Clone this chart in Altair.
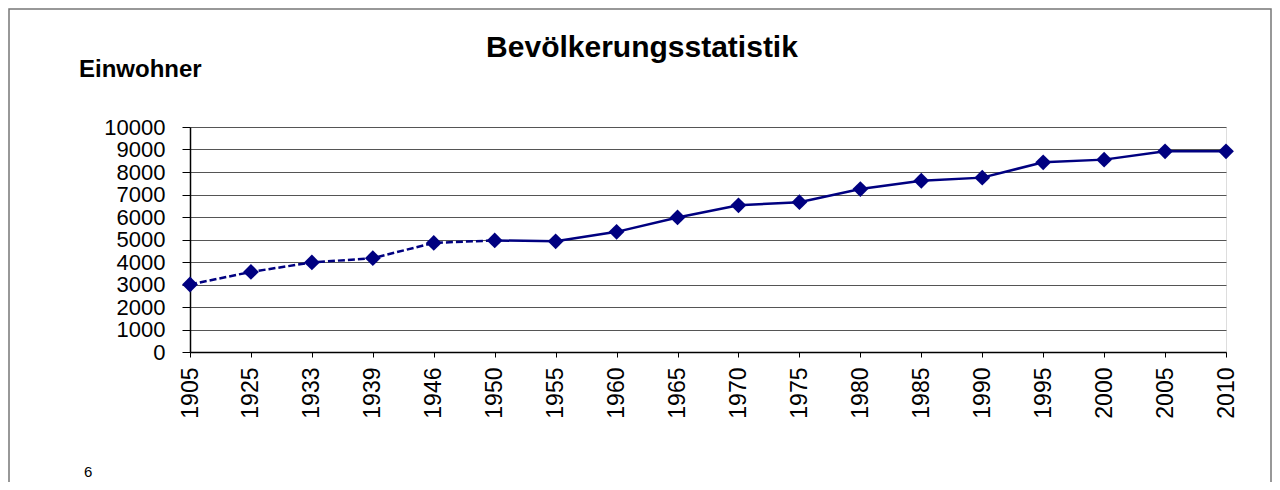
import altair as alt
import pandas as pd

years = ["1905", "1925", "1933", "1939", "1946", "1950", "1955", "1960", "1965",
         "1970", "1975", "1980", "1985", "1990", "1995", "2000", "2005", "2010"]
einwohner = [3000, 3560, 3980, 4170, 4850, 4960, 4920, 5340, 5980,
             6520, 6660, 7240, 7610, 7750, 8430, 8550, 8920, 8920]
dashed_until = "1950"
y_ticks = [0, 1000, 2000, 3000, 4000, 5000, 6000, 7000, 8000, 9000, 10000]
title_text = "Bevölkerungsstatistik"
y_title = "Einwohner"
page_number = "6"

FONT = "Liberation Sans"
NAVY = "#000080"

df = pd.DataFrame({"Jahr": years, "Einwohner": einwohner})
cut = years.index(dashed_until)
dashed_df = df.iloc[: cut + 1]
solid_df = df.iloc[cut:]

x_enc = alt.X(
    "Jahr:N",
    sort=years,
    scale=alt.Scale(type="point", domain=years, padding=0),
    axis=alt.Axis(
        title=None, labelAngle=270, labelAlign="right", labelBaseline="middle",
        labelFont=FONT, labelFontSize=23, labelColor="black", labelPadding=10,
        tickSize=5, tickColor="black", domainColor="black", domainWidth=1.5,
        grid=False, labelOverlap=False,
    ),
)
y_enc = alt.Y(
    "Einwohner:Q",
    scale=alt.Scale(domain=[0, 10000], nice=False),
    axis=alt.Axis(
        title=None, values=y_ticks, format="d", labelFont=FONT, labelFontSize=22,
        labelColor="black", labelPadding=17, tickSize=8, tickColor="black",
        domainColor="black", domainWidth=1.5, grid=True, gridColor="#555555",
        gridWidth=1, labelOverlap=False, labelFlush=False,
    ),
)

frame = alt.Chart(pd.DataFrame({"a": [0]})).mark_rect(
    fillOpacity=0, stroke="#777777", strokeWidth=1.5
).encode(
    x=alt.value(-181), x2=alt.value(1081), y=alt.value(-118), y2=alt.value(420)
)

dashed = alt.Chart(dashed_df).mark_line(
    color=NAVY, strokeWidth=2.5, strokeDash=[7, 3]
).encode(x=x_enc, y=y_enc)

solid = alt.Chart(solid_df).mark_line(
    color=NAVY, strokeWidth=2.5
).encode(x=x_enc, y=y_enc)

points = alt.Chart(df).mark_point(
    shape="diamond", filled=True, color=NAVY, size=250, opacity=1
).encode(x=x_enc, y=y_enc)

title = alt.Chart(pd.DataFrame({"t": [title_text]})).mark_text(
    font=FONT, fontSize=30, fontWeight="bold", color="black",
    align="center", baseline="alphabetic"
).encode(x=alt.value(452), y=alt.value(-70), text="t:N")

ytitle = alt.Chart(pd.DataFrame({"t": [y_title]})).mark_text(
    font=FONT, fontSize=24, fontWeight="bold", color="black",
    align="left", baseline="alphabetic"
).encode(x=alt.value(-111), y=alt.value(-50), text="t:N")

page = alt.Chart(pd.DataFrame({"t": [page_number]})).mark_text(
    font=FONT, fontSize=15, color="black", align="left", baseline="bottom"
).encode(x=alt.value(-106), y=alt.value(353), text="t:N")

chart = alt.layer(frame, dashed, solid, points, title, ytitle, page).properties(
    width=1036,
    height=225,
    autosize=alt.AutoSizeParams(type="none"),
    padding={"left": 182, "top": 119, "right": 46, "bottom": 130},
).configure_view(
    fill="#FFFFCC", stroke="#8c8c8c", strokeWidth=2
).configure(background="white")

chart.save("out.html", embed_options={"renderer": "svg", "actions": False})
